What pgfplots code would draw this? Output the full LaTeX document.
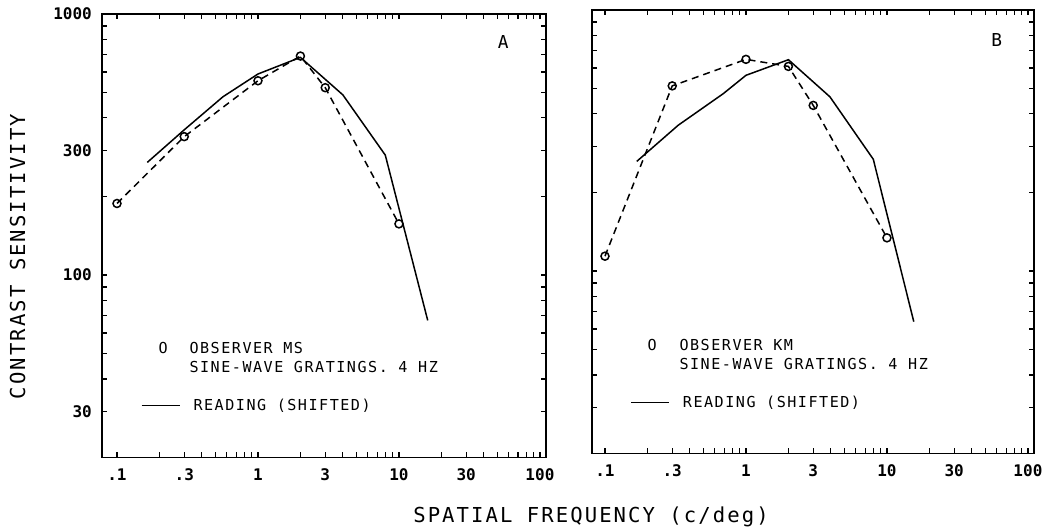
\documentclass[border=0pt]{standalone}
\usepackage{pgfplots}
\pgfplotsset{compat=1.18}
\usepackage{fontspec}
\setmainfont{DejaVu Sans Mono}
\newfontfamily\plotfont[LetterSpace=10]{DejaVu Sans Mono}
\newcommand\labfont{\plotfont\fontsize{20.6}{22}\selectfont}
\newcommand\legfont{\plotfont\fontsize{15.1}{17}\selectfont}
\newcommand\tickfont{\fontsize{16}{17}\selectfont\bfseries}

\pgfplotstableread{
x y
0.1 188
0.3 339
1 555
2 690
3 522
10 157
}\obsA
\pgfplotstableread{
x y
0.164 270
0.3 360
0.565 482
1 589
2 682
4 490
8 288
16 67
}\readA
\pgfplotstableread{
x y
0.1 114
0.3 512
1 647
2 608
3 431
10 134
}\obsB
\pgfplotstableread{
x y
0.168 263
0.331 362
0.69 478
1 562
2 645
3.94 465
8 268
15.5 64
}\readB

\begin{document}
\begin{tikzpicture}
\useasboundingbox (0pt,0pt) rectangle (1045pt,531pt);

\begin{loglogaxis}[scale only axis,
  at={(102pt,73.5pt)}, anchor=south west, width=444pt, height=443.5pt,
  xmin=0.0783, xmax=110.4, ymin=20, ymax=1000,
  axis line style={line width=1.6pt},
  tick align=inside, major tick length=5pt,
  tick style={line width=1.2pt, black},
  xtick={0.1,0.2,0.3,0.4,0.5,0.6,0.7,0.8,0.9,1,2,3,4,5,6,7,8,9,10,20,30,40,50,60,70,80,90,100},
  xticklabels={.1,,.3,,,,,,,1,,3,,,,,,,10,,30,,,,,,,100},
  ytick={20,30,40,50,60,70,80,90,100,200,300,400,500,600,700,800,900,1000},
  yticklabels={,30,,,,,,,100,,300,,,,,,,1000},
  xticklabel style={font=\tickfont, anchor=base, inner sep=0pt, yshift=-23pt},
  yticklabel style={font=\tickfont, anchor=east, inner sep=0pt, xshift=-10pt},
  clip=false]
\addplot[black, line width=1.5pt, dash pattern=on 7pt off 5pt, mark=o, mark size=4pt, mark options={solid, line width=1.5pt}] table[x=x,y=y] {\obsA};
\addplot[black, line width=1.5pt, no marks] table[x=x,y=y] {\readA};
\end{loglogaxis}

\begin{loglogaxis}[scale only axis,
  at={(592pt,77.5pt)}, anchor=south west, width=442pt, height=443.5pt,
  xmin=0.0809, xmax=110.4, ymin=20, ymax=1000,
  axis line style={line width=1.6pt},
  tick align=inside, major tick length=5pt,
  tick style={line width=1.2pt, black},
  xtick={0.1,0.2,0.3,0.4,0.5,0.6,0.7,0.8,0.9,1,2,3,4,5,6,7,8,9,10,20,30,40,50,60,70,80,90,100},
  xticklabels={.1,,.3,,,,,,,1,,3,,,,,,,10,,30,,,,,,,100},
  ytick={20,30,40,50,60,70,80,90,100,200,300,400,500,600,700,800,900,1000},
  yticklabels={},
  xticklabel style={font=\tickfont, anchor=base, inner sep=0pt, yshift=-23pt},
  clip=false]
\addplot[black, line width=1.5pt, dash pattern=on 7pt off 5pt, mark=o, mark size=4pt, mark options={solid, line width=1.5pt}] table[x=x,y=y] {\obsB};
\addplot[black, line width=1.5pt, no marks] table[x=x,y=y] {\readB};
\end{loglogaxis}

% axis titles
\node[font=\labfont, anchor=base, inner sep=0pt] at (591pt,9pt) {SPATIAL FREQUENCY (c/deg)};
\node[font=\labfont, anchor=base, inner sep=0pt, rotate=90] at (25pt,274.5pt) {CONTRAST SENSITIVITY};

% panel letters
\node[font=\fontsize{17.8}{18}\selectfont, anchor=base, inner sep=0pt] at (503.3pt,482.5pt) {A};
\node[font=\fontsize{17.8}{18}\selectfont, anchor=base, inner sep=0pt] at (996.7pt,484pt) {B};

% legend A
\node[font=\legfont, anchor=base west, inner sep=0pt] at (158.3pt,177.7pt) {O};
\node[font=\legfont, anchor=base west, inner sep=0pt] at (189.3pt,177.7pt) {OBSERVER MS};
\node[font=\legfont, anchor=base west, inner sep=0pt] at (189.3pt,158.7pt) {SINE-WAVE GRATINGS. 4 HZ};
\draw[line width=1.5pt] (141.7pt,125.3pt) -- (180pt,125.3pt);
\node[font=\legfont, anchor=base west, inner sep=0pt] at (193.3pt,120.5pt) {READING (SHIFTED)};

% legend B
\node[font=\legfont, anchor=base west, inner sep=0pt] at (647.3pt,180.5pt) {O};
\node[font=\legfont, anchor=base west, inner sep=0pt] at (679.3pt,180.5pt) {OBSERVER KM};
\node[font=\legfont, anchor=base west, inner sep=0pt] at (679.3pt,161.5pt) {SINE-WAVE GRATINGS. 4 HZ};
\draw[line width=1.5pt] (631pt,128.7pt) -- (669pt,128.7pt);
\node[font=\legfont, anchor=base west, inner sep=0pt] at (682.7pt,123.5pt) {READING (SHIFTED)};
\end{tikzpicture}
\end{document}
